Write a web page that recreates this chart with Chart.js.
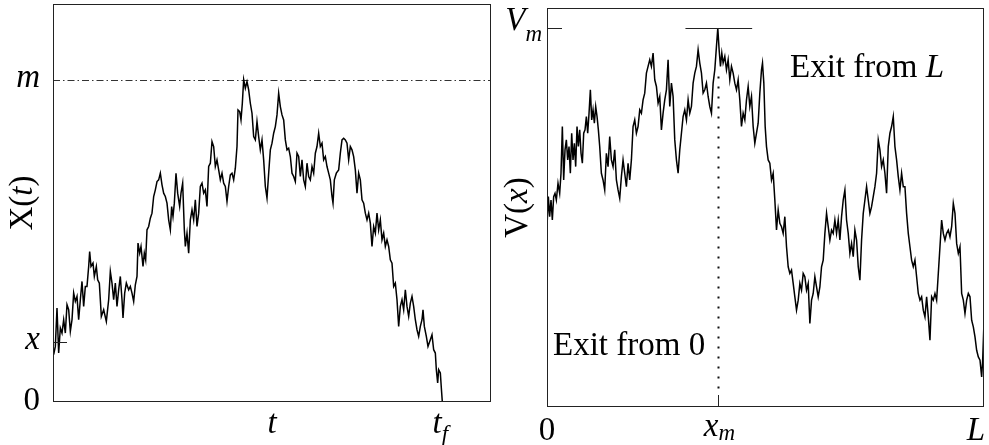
<!DOCTYPE html>
<html lang="en">
<head>
<meta charset="UTF-8">
<title>Random walk X(t) and potential V(x)</title>
<script src="https://cdn.jsdelivr.net/npm/chart.js@4.4.0/dist/chart.umd.min.js"></script>
<style>
  html, body { margin: 0; padding: 0; background: #fff; }
  #wrap { position: relative; width: 989px; height: 445px; }
  canvas { position: absolute; left: 0; top: 0; }
</style>
</head>
<body>
<div id="wrap">
  <canvas id="left" width="989" height="445"></canvas>
  <canvas id="right" width="989" height="445"></canvas>
</div>
<script>
// Left panel: path X(t), arbitrary units
const leftT = [
  160,165,170,175,180,185,190,195,200,205,210,215,220,225,230,235,240,245,250,255,
  260,265,268,272,278,282,288,292,297,303,310,318,325,330,335,340,345,350,355,360,
  365,368,373,378,385,390,395,400,405,410,413,418,422,428,432,436,440,445,450,455,
  460,465,470,475,480,485,490,495,500,505,510,514,518,522,527,532,538,542,547,552,
  555,560,565,570,575,580,585,590,595,600,605,610,615,620,625,630,635,640,645,650,
  655,660,665,670,675,680,685,690,695,700,705,710,713,718,722,726,730,735,740,745,
  750,755,760,765,770,775,780,785,790,795,800,805,810,815,820,825,830,835,840,845,
  850,855,860,865,870,875,880,885,890,895,900,905,910,915,920,925,930,935,940,945,
  950,955,960,965,970,975,980,985,990,995,998,1002,1008,1015,1020,1025,1030,1035,1040,1045,
  1050,1055,1060,1065,1070,1075,1080,1085,1090,1095,1100,1105,1110,1115,1120,1125,1130,1135,1140,1145,
  1150,1155,1160,1165,1170,1175,1180,1185,1190,1195,1200,1205,1210,1215,1220,1225,1230,1235,1240,1245,
  1250,1255,1260,1265,1268,1272,1278,1283,1290,1295,1300,1305,1308,1312,1315,1320,1323,1326
];
const leftX = [
  142,167,282,147,222,207,247,207,292,277,212,247,327,302,317,247,307,362,287,347,
  347,407,452,407,417,377,407,367,357,257,277,242,307,392,357,307,357,287,337,377,
  307,252,327,357,337,347,327,302,352,377,477,447,467,407,447,427,517,527,552,567,
  617,637,662,667,687,652,627,617,597,547,517,587,557,597,687,627,587,627,657,517,
  467,507,447,547,577,547,607,527,567,647,657,627,637,587,707,717,782,767,707,727,
  697,667,687,657,647,602,647,682,687,667,702,767,877,872,847,897,968,942,962,937,
  897,867,797,787,842,797,757,787,727,647,612,687,757,777,807,827,862,927,887,862,
  847,787,757,762,737,687,677,662,747,737,677,727,667,647,717,677,667,707,687,747,
  767,807,767,777,727,737,707,687,667,617,597,667,687,697,747,787,792,787,777,727,
  767,757,737,697,627,687,667,607,597,567,547,567,537,467,527,507,567,517,547,487,
  507,467,487,467,427,417,347,357,307,227,287,307,277,337,287,257,297,317,287,247,
  217,197,227,247,277,227,197,167,187,202,157,147,97,57,97,87,42,0
];
const leftRange = { tMin: 158, tMax: 1472, xMin: 0, xMax: 1195 };
const leftLevels = { m: 968, x: 180 };          // dash-dot maximum, start tick
const leftTicks = [815, 1320];                  // positions of t and t_f

// Right panel: potential V(x)
const rightX = [
  172,176,180,184,188,192,196,200,205,210,214,218,222,226,230,234,238,242,246,250,
  254,258,262,266,270,274,278,282,286,290,294,298,302,306,310,314,318,322,326,330,
  335,340,345,350,355,360,365,370,375,380,385,390,395,400,405,410,415,420,425,430,
  435,440,445,450,455,460,465,470,475,480,485,490,495,500,505,510,515,520,525,530,
  535,540,545,550,555,560,565,570,575,580,585,590,595,600,605,610,615,620,625,630,
  635,640,645,650,655,660,665,670,675,680,684,688,692,696,700,705,710,715,720,725,
  730,735,740,745,750,755,760,765,770,775,780,785,790,795,800,805,810,815,818,822,
  826,830,835,840,845,850,855,860,865,870,875,880,885,890,895,900,905,910,915,920,
  925,930,935,940,945,950,955,960,965,970,975,980,985,990,995,1000,1005,1010,1015,1020,
  1025,1030,1035,1040,1045,1050,1055,1060,1065,1070,1075,1080,1085,1090,1095,1100,1105,1110,1115,1120,
  1125,1130,1135,1140,1145,1150,1155,1160,1165,1170,1175,1180,1185,1190,1195,1200,1205,1210,1215,1220,
  1225,1230,1235,1240,1245,1250,1255,1260,1265,1270,1275,1280,1285,1290,1295,1300,1305,1310,1315,1320,
  1325,1330,1335,1340,1345,1350,1355,1360,1365,1370,1375,1380,1385,1390,1395,1400,1405,1410,1415,1420,
  1425,1430,1435,1440,1445,1450,1455,1460,1465,1470,1475,1478,1482
];
const rightV = [
  540,630,570,620,560,630,640,620,670,640,700,840,680,770,800,740,780,700,820,740,
  790,720,840,780,830,760,730,820,830,870,820,880,950,860,890,850,900,870,830,780,
  700,680,650,760,720,810,740,720,770,680,650,625,690,740,700,660,730,680,740,840,
  860,820,840,890,880,920,940,1000,1020,1040,1020,1060,980,960,910,930,830,880,920,950,
  1040,900,970,930,800,740,700,770,820,870,890,860,920,880,900,970,1000,1020,1070,1030,
  1000,940,950,970,930,900,880,970,1010,1080,1135,1070,1020,1060,1030,1050,1010,1040,980,1020,
  1000,970,950,980,920,840,880,860,920,960,900,930,840,790,820,850,940,1010,1030,970,
  840,780,740,730,680,700,620,530,590,550,540,520,570,480,420,400,410,370,330,290,
  320,370,350,400,390,350,370,250,320,340,390,360,330,360,420,440,520,580,540,500,
  530,520,560,520,560,500,570,620,650,560,520,460,490,450,530,500,420,380,500,580,
  620,660,620,580,600,630,660,700,800,770,720,740,700,640,780,820,840,870,780,740,
  690,650,700,660,660,580,520,480,440,420,440,390,340,320,330,290,270,330,270,200,
  330,320,340,320,400,480,560,520,500,520,530,510,540,610,580,490,460,480,340,320,
  280,320,340,330,260,240,210,170,150,140,90,140,255
];
const rightRange = { xMin: 172, xMax: 1482, vMin: 0, vMax: 1195 };
const rightLevels = { vm: 1135, xm: 684 };
const rightSegment = [587, 787];                // short bar through the maximum
const rightDottedTop = 990;

const SERIF = '"Liberation Serif", "Times New Roman", serif';
const F_UP = `33px ${SERIF}`;
const F_IT = `italic 33px ${SERIF}`;
const F_SUB = `italic 23px ${SERIF}`;

// draw text made of runs with different fonts; align = left | center | right
function drawRuns(ctx, runs, x, y, align = 'left') {
  let total = 0;
  runs.forEach(r => { ctx.font = r.font; total += ctx.measureText(r.text).width; });
  let cx = align === 'center' ? x - total / 2 : align === 'right' ? x - total : x;
  ctx.textAlign = 'left';
  ctx.textBaseline = 'alphabetic';
  runs.forEach(r => {
    ctx.font = r.font;
    ctx.fillText(r.text, cx, y + (r.dy || 0));
    cx += ctx.measureText(r.text).width;
  });
}

function line(ctx, x1, y1, x2, y2) {
  ctx.beginPath();
  ctx.moveTo(x1, y1);
  ctx.lineTo(x2, y2);
  ctx.stroke();
}

function frame(ctx, a) {
  ctx.strokeStyle = '#222';
  ctx.lineWidth = 1;
  ctx.setLineDash([]);
  ctx.strokeRect(a.left + 0.5, a.top + 0.5, a.right - a.left - 1, a.bottom - a.top - 1);
}

const leftDecor = {
  id: 'leftDecor',
  beforeDatasetsDraw(chart) {
    const { ctx, chartArea: a, scales: { y } } = chart;
    ctx.save();
    const ym = Math.round(y.getPixelForValue(leftLevels.m)) + 0.5;
    ctx.strokeStyle = '#333';
    ctx.lineWidth = 1;
    ctx.setLineDash([7, 3, 1.5, 3]);
    line(ctx, a.left, ym, a.right, ym);
    ctx.restore();
  },
  afterDraw(chart) {
    const { ctx, chartArea: a, scales: { x, y } } = chart;
    ctx.save();
    frame(ctx, a);
    const yx = Math.round(y.getPixelForValue(leftLevels.x)) + 0.5;
    line(ctx, a.left, yx, a.left + 14, yx);

    ctx.fillStyle = '#000';
    const ym = y.getPixelForValue(leftLevels.m);
    drawRuns(ctx, [{ text: 'm', font: F_IT }], a.left - 13, ym + 7, 'right');
    drawRuns(ctx, [{ text: 'x', font: F_IT }], a.left - 13, yx + 6, 'right');
    drawRuns(ctx, [{ text: '0', font: F_UP }], a.left - 13, a.bottom + 8, 'right');

    drawRuns(ctx, [{ text: 't', font: F_IT }], x.getPixelForValue(leftTicks[0]), a.bottom + 31, 'center');
    drawRuns(ctx, [{ text: 't', font: F_IT }, { text: 'f', font: F_SUB, dy: 8 }],
      x.getPixelForValue(leftTicks[1]), a.bottom + 31, 'center');

    // rotated axis title
    ctx.translate(32, (a.top + a.bottom) / 2);
    ctx.rotate(-Math.PI / 2);
    drawRuns(ctx, [{ text: 'X(', font: F_UP }, { text: 't', font: F_IT }, { text: ')', font: F_UP }], 0, 0, 'center');
    ctx.restore();
  }
};

const rightDecor = {
  id: 'rightDecor',
  beforeDatasetsDraw(chart) {
    const { ctx, chartArea: a, scales: { x, y } } = chart;
    ctx.save();
    const px = Math.round(x.getPixelForValue(rightLevels.xm)) + 0.5;
    ctx.strokeStyle = '#111';
    ctx.lineWidth = 2;
    ctx.setLineDash([2, 8]);
    line(ctx, px, y.getPixelForValue(rightDottedTop), px, a.bottom - 13);
    ctx.restore();
  },
  afterDraw(chart) {
    const { ctx, chartArea: a, scales: { x, y } } = chart;
    ctx.save();
    frame(ctx, a);
    const yv = Math.round(y.getPixelForValue(rightLevels.vm)) + 0.5;
    const px = Math.round(x.getPixelForValue(rightLevels.xm)) + 0.5;
    line(ctx, a.left, yv, a.left + 15, yv);
    line(ctx, x.getPixelForValue(rightSegment[0]), yv, x.getPixelForValue(rightSegment[1]), yv);
    line(ctx, px, a.bottom - 12, px, a.bottom);

    ctx.fillStyle = '#000';
    drawRuns(ctx, [{ text: 'V', font: F_IT }, { text: 'm', font: F_SUB, dy: 11 }], a.left - 5, yv + 1, 'right');
    drawRuns(ctx, [{ text: 'Exit from ', font: F_UP }, { text: 'L', font: F_IT }], a.left + 243, a.top + 69);
    drawRuns(ctx, [{ text: 'Exit from 0', font: F_UP }], a.left + 6, a.top + 347);

    drawRuns(ctx, [{ text: '0', font: F_UP }], a.left, a.bottom + 33, 'center');
    drawRuns(ctx, [{ text: 'x', font: F_IT }, { text: 'm', font: F_SUB, dy: 4 }], px + 1, a.bottom + 29, 'center');
    drawRuns(ctx, [{ text: 'L', font: F_IT }], a.right + 1, a.bottom + 33, 'right');

    ctx.translate(527, (a.top + a.bottom) / 2);
    ctx.rotate(-Math.PI / 2);
    drawRuns(ctx, [{ text: 'V(', font: F_UP }, { text: 'x', font: F_IT }, { text: ')', font: F_UP }], 0, 0, 'center');
    ctx.restore();
  }
};

function pathChart(id, xs, ys, range, padding, decor) {
  return new Chart(document.getElementById(id), {
    type: 'line',
    data: {
      datasets: [{
        data: xs.map((v, i) => ({ x: v, y: ys[i] })),
        borderColor: '#000',
        borderWidth: 1.5,
        pointRadius: 0,
        tension: 0,
        fill: false
      }]
    },
    options: {
      responsive: false,
      animation: false,
      devicePixelRatio: 1,
      layout: { padding },
      plugins: { legend: { display: false }, tooltip: { enabled: false } },
      scales: {
        x: { type: 'linear', display: false, min: range[0], max: range[1] },
        y: { type: 'linear', display: false, min: range[2], max: range[3] }
      }
    },
    plugins: [decor]
  });
}

pathChart('left', leftT, leftX,
  [leftRange.tMin, leftRange.tMax, leftRange.xMin, leftRange.xMax],
  { left: 53, right: 498, top: 4, bottom: 43 }, leftDecor);

pathChart('right', rightX, rightV,
  [rightRange.xMin, rightRange.xMax, rightRange.vMin, rightRange.vMax],
  { left: 547, right: 5, top: 8, bottom: 38 }, rightDecor);
</script>
</body>
</html>
